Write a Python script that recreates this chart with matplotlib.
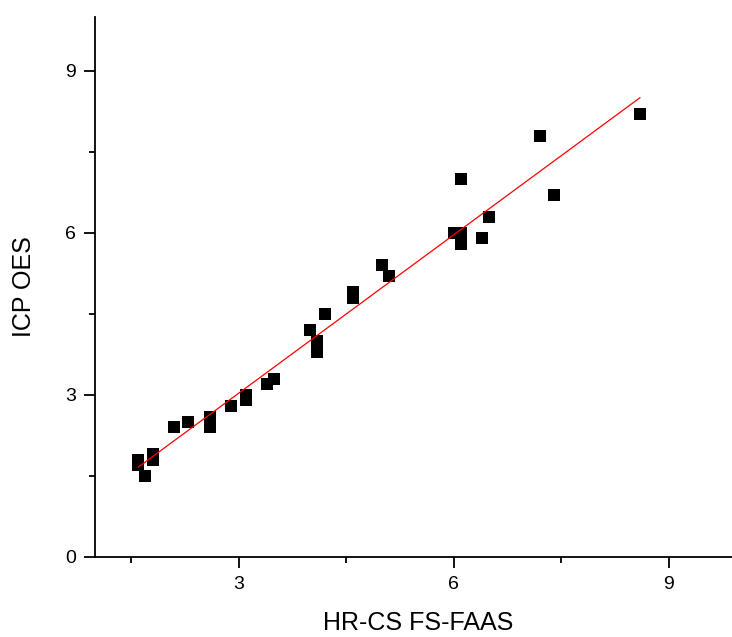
import numpy as np
import matplotlib
matplotlib.use("Agg")
import matplotlib.pyplot as plt
from matplotlib.ticker import MultipleLocator

plt.rcParams["font.family"] = ["Liberation Sans", "DejaVu Sans"]

# paired measurements: flame AAS vs ICP OES
hrcs = [1.6, 1.6, 1.7, 1.8, 1.8, 2.1, 2.3, 2.6, 2.6, 2.9, 3.1, 3.1,
        3.4, 3.5, 4.0, 4.1, 4.1, 4.2, 4.6, 4.6, 5.0, 5.1,
        6.0, 6.1, 6.1, 6.1, 6.4, 6.5, 7.2, 7.4, 8.6]
icp = [1.8, 1.7, 1.5, 1.9, 1.8, 2.4, 2.5, 2.6, 2.4, 2.8, 3.0, 2.9,
       3.2, 3.3, 4.2, 4.0, 3.8, 4.5, 4.9, 4.8, 5.4, 5.2,
       6.0, 6.0, 5.8, 7.0, 5.9, 6.3, 7.8, 6.7, 8.2]

x = np.array(hrcs)
y = np.array(icp)
slope, intercept = np.polyfit(x, y, 1)
xfit = np.array([x.min(), x.max()])

fig = plt.figure(figsize=(7.32, 6.37), dpi=100)
ax = fig.add_axes([0.1302, 0.1256, 0.881, 0.848])

ax.plot(x, y, "s", color="black", markersize=8, markeredgewidth=0)
ax.plot(xfit, slope * xfit + intercept, color="red", linewidth=0.9)

ax.set_xlim(1, 10)
ax.set_ylim(0, 10)
ax.xaxis.set_major_locator(MultipleLocator(3))
ax.xaxis.set_minor_locator(MultipleLocator(1.5))
ax.yaxis.set_major_locator(MultipleLocator(3))
ax.yaxis.set_minor_locator(MultipleLocator(1.5))

for side in ["top", "right"]:
    ax.spines[side].set_visible(False)
for side in ["left", "bottom"]:
    ax.spines[side].set_linewidth(1.3)

ax.tick_params(which="major", direction="out", length=8, width=1.3,
               labelsize=14, pad=6)
ax.tick_params(which="minor", direction="out", length=4, width=1.3)

ax.set_xlabel("HR-CS FS-FAAS", fontsize=18, labelpad=13)
ax.set_ylabel("ICP OES", fontsize=18, labelpad=21)

fig.savefig("out.png", dpi=100)
